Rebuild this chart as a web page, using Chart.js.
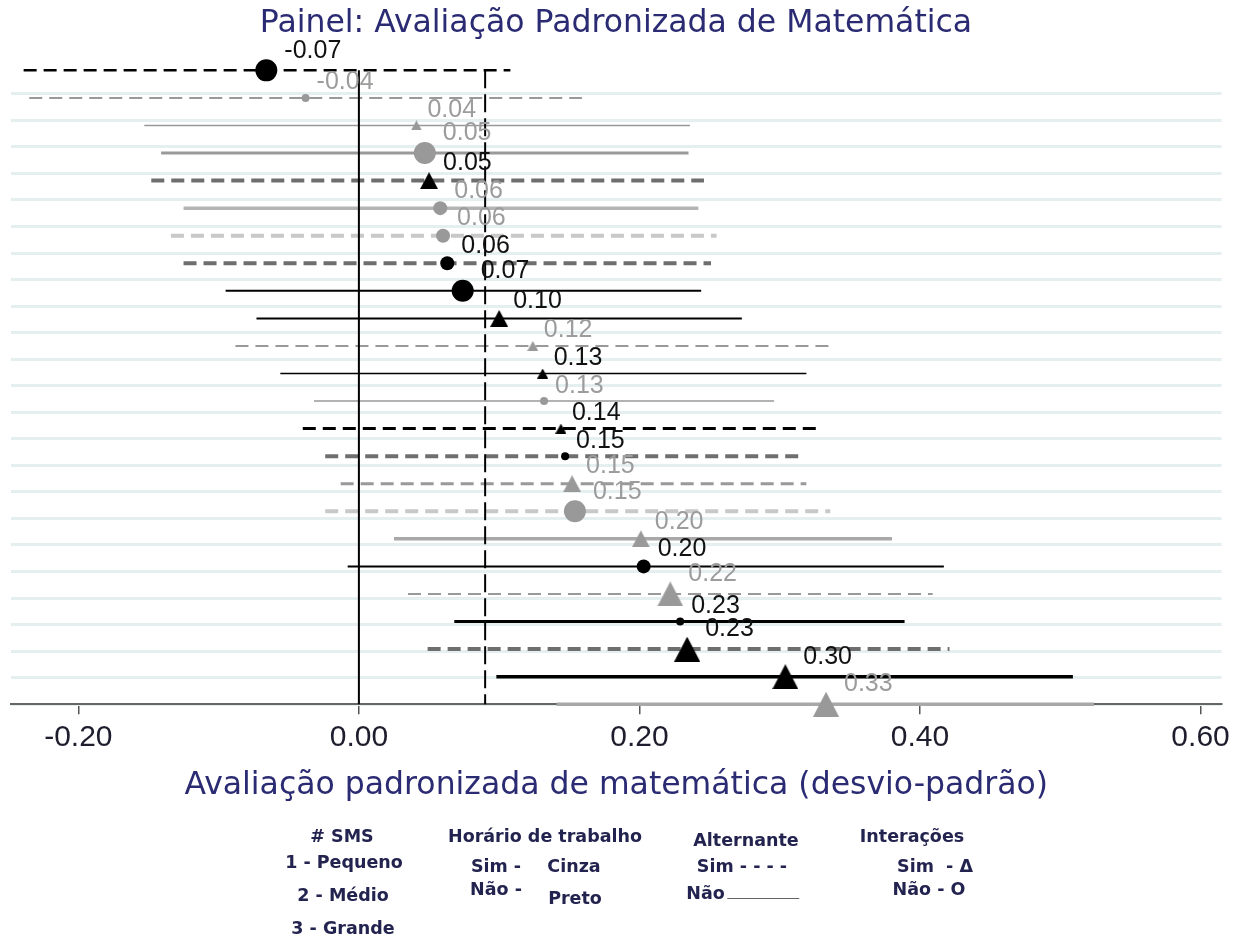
<!DOCTYPE html>
<html>
<head>
<meta charset="utf-8">
<script src="https://cdn.jsdelivr.net/npm/chart.js@4.4.0/dist/chart.umd.min.js"></script>
<style>
  html, body { margin: 0; padding: 0; background: #fff; }
  #wrap { position: relative; width: 1236px; height: 938px; }
  #chart { position: absolute; left: 0; top: 0; }
  .lg {
    position: absolute;
    transform: translate(-50%, -50%);
    font-family: 'DejaVu Sans', sans-serif;
    font-weight: bold;
    font-size: 17.5px;
    color: #23234f;
    white-space: nowrap;
  }
  .rule { display: inline-block; width: 72px; border-bottom: 1.5px solid #666; margin-left: 3px; }
</style>
</head>
<body>
<div id="wrap">
  <canvas id="chart" width="1236" height="938"></canvas>

  <div class="lg" style="left:342px;top:836px"># SMS</div>
  <div class="lg" style="left:344px;top:862px">1 - Pequeno</div>
  <div class="lg" style="left:343px;top:895px">2 - Médio</div>
  <div class="lg" style="left:343px;top:928px">3 - Grande</div>

  <div class="lg" style="left:545px;top:836px">Horário de trabalho</div>
  <div class="lg" style="left:496px;top:866px">Sim -</div>
  <div class="lg" style="left:574px;top:866px">Cinza</div>
  <div class="lg" style="left:496px;top:889px">Não -</div>
  <div class="lg" style="left:575px;top:898px">Preto</div>

  <div class="lg" style="left:746px;top:840px">Alternante</div>
  <div class="lg" style="left:742px;top:866px">Sim - - - -</div>
  <div class="lg" style="left:743px;top:893px">Não<span class="rule"></span></div>

  <div class="lg" style="left:912px;top:836px">Interações</div>
  <div class="lg" style="left:935px;top:866px">Sim &nbsp;- Δ</div>
  <div class="lg" style="left:929px;top:889px">Não - O</div>
</div>

<script>
// rows listed top to bottom
const estimates = [-0.066, -0.038, 0.041, 0.047, 0.050, 0.058, 0.060, 0.063, 0.074, 0.100, 0.124, 0.131,
  0.132, 0.144, 0.147, 0.152, 0.154, 0.201, 0.203, 0.222, 0.229, 0.234, 0.304, 0.333];
const ciLow = [-0.239, -0.235, -0.153, -0.141, -0.148, -0.125, -0.134, -0.125, -0.095, -0.073, -0.088, -0.056,
  -0.032, -0.040, -0.024, -0.013, -0.024, 0.025, -0.008, 0.035, 0.068, 0.049, 0.098, 0.141];
const ciHigh = [0.108, 0.159, 0.236, 0.235, 0.246, 0.242, 0.255, 0.251, 0.244, 0.273, 0.336, 0.319,
  0.296, 0.329, 0.317, 0.319, 0.336, 0.380, 0.417, 0.409, 0.389, 0.421, 0.509, 0.524];

// # SMS: 1 pequeno, 2 medio, 3 grande
const sms = [3, 1, 1, 3, 2, 2, 2, 2, 3, 2, 1, 1, 1, 1, 1, 2, 3, 2, 2, 3, 1, 3, 3, 3];
// horario de trabalho (Sim = cinza)
const horario = ['Não', 'Sim', 'Sim', 'Sim', 'Não', 'Sim', 'Sim', 'Não', 'Não', 'Não', 'Sim', 'Não',
  'Sim', 'Não', 'Não', 'Sim', 'Sim', 'Sim', 'Não', 'Sim', 'Não', 'Não', 'Não', 'Sim'];
// alternante (Sim = tracejado)
const alternante = ['Sim', 'Sim', 'Não', 'Não', 'Sim', 'Não', 'Sim', 'Sim', 'Não', 'Não', 'Sim', 'Não',
  'Não', 'Sim', 'Sim', 'Sim', 'Sim', 'Não', 'Não', 'Sim', 'Não', 'Sim', 'Não', 'Não'];
// interacoes (Sim = triangulo)
const interacoes = ['Não', 'Não', 'Sim', 'Não', 'Sim', 'Não', 'Não', 'Não', 'Não', 'Sim', 'Sim', 'Sim',
  'Não', 'Sim', 'Não', 'Sim', 'Não', 'Sim', 'Não', 'Sim', 'Não', 'Sim', 'Sim', 'Sim'];

const xTicks = [-0.20, 0.00, 0.20, 0.40, 0.60];
const meanEffect = 0.09;

// styles
const NAVY = '#2b2b73';
const GRAY = '#999999';
const BLACK = '#000000';
const circleRadius = [4, 7, 11];
const triangleWidth = [11, 18, 26];
const lineColor = ['#000', '#999', '#999', '#999', '#6e6e6e', '#b4b4b4', '#c8c8c8', '#6e6e6e', '#000', '#000',
  '#999', '#000', '#999', '#000', '#6e6e6e', '#999', '#c8c8c8', '#a8a8a8', '#000', '#999', '#000', '#6e6e6e',
  '#000', '#a8a8a8'];
const lineWidth = [2.5, 2, 1.5, 3, 4, 3.5, 4, 4, 2, 2, 2, 1.5, 1.5, 3, 4, 3, 4, 3.5, 2, 2, 3, 4, 3.5, 3.5];
const nRows = estimates.length;

const triCache = {};
function triangle(size, color) {
  const key = size + color;
  if (!triCache[key]) {
    const w = triangleWidth[size - 1];
    const h = Math.round(w * 0.95);
    const c = document.createElement('canvas');
    c.width = w;
    c.height = h;
    const g = c.getContext('2d');
    g.fillStyle = color;
    g.beginPath();
    g.moveTo(w / 2, 0);
    g.lineTo(w, h);
    g.lineTo(0, h);
    g.closePath();
    g.fill();
    triCache[key] = c;
  }
  return triCache[key];
}

const markerColor = i => (horario[i] === 'Sim' ? GRAY : BLACK);

const ciSets = estimates.map((v, i) => ({
  data: [{x: ciLow[i], y: i + 1}, {x: ciHigh[i], y: i + 1}],
  showLine: true,
  borderColor: lineColor[i],
  borderWidth: lineWidth[i],
  borderDash: alternante[i] === 'Sim' ? [13, 7] : [],
  borderCapStyle: 'butt',
  pointRadius: 0,
  clip: false,
  order: 3,
}));

const refSets = [
  {
    data: [{x: 0, y: 1}, {x: 0, y: nRows}],
    borderColor: '#000',
    borderWidth: 2,
  },
  {
    data: [{x: meanEffect, y: 1}, {x: meanEffect, y: nRows}],
    borderColor: '#000',
    borderWidth: 2,
    borderDash: [18, 6],
  },
].map(d => ({...d, showLine: true, pointRadius: 0, clip: false, order: 2}));

const pointSet = {
  data: estimates.map((v, i) => ({x: v, y: i + 1})),
  pointStyle: c => (interacoes[c.dataIndex] === 'Sim'
    ? triangle(sms[c.dataIndex], markerColor(c.dataIndex)) : 'circle'),
  pointRadius: c => circleRadius[sms[c.dataIndex] - 1],
  pointBackgroundColor: c => markerColor(c.dataIndex),
  pointBorderWidth: 0,
  clip: false,
  order: 0,
};

const valueLabels = {
  id: 'valueLabels',
  afterDatasetsDraw(chart) {
    const {ctx, scales: {x, y}} = chart;
    ctx.save();
    ctx.font = "25px 'Liberation Sans', Arial, sans-serif";
    ctx.textBaseline = 'middle';
    ctx.textAlign = 'left';
    estimates.forEach((v, i) => {
      const r = circleRadius[sms[i] - 1];
      ctx.fillStyle = horario[i] === 'Sim' ? '#9c9c9c' : '#111';
      ctx.fillText(v.toFixed(2), x.getPixelForValue(v) + r + 7, y.getPixelForValue(i + 1) - 13 - r * 0.6);
    });
    ctx.restore();
  },
};

// faint horizontal guide lines
const guideStart = 1.85;
const guideStep = (nRows - guideStart) / (nRows - 1);

new Chart(document.getElementById('chart'), {
  type: 'scatter',
  data: {datasets: [pointSet, ...refSets, ...ciSets]},
  options: {
    responsive: false,
    animation: false,
    layout: {padding: {top: 2, left: 10, right: 14, bottom: 133}},
    plugins: {
      legend: {display: false},
      tooltip: {enabled: false},
      title: {
        display: true,
        text: 'Painel: Avaliação Padronizada de Matemática',
        color: NAVY,
        font: {family: "'DejaVu Sans', sans-serif", size: 31.5, weight: 'normal'},
        padding: {top: 3, bottom: 0},
      },
    },
    scales: {
      x: {
        type: 'linear',
        min: -0.248,
        max: 0.615,
        afterBuildTicks: axis => {
          axis.ticks = xTicks.map(v => ({value: v}));
        },
        ticks: {
          callback: v => v.toFixed(2),
          color: '#1d1d2d',
          font: {family: "'Liberation Sans', Arial, sans-serif", size: 30},
          padding: 6,
          maxRotation: 0,
        },
        grid: {drawOnChartArea: false, drawTicks: true, tickLength: 10, color: '#555', lineWidth: 1.5},
        border: {display: true, color: '#666', width: 2},
        title: {
          display: true,
          text: 'Avaliação padronizada de matemática (desvio-padrão)',
          color: NAVY,
          font: {family: "'DejaVu Sans', sans-serif", size: 31.5, weight: 'normal'},
          padding: {top: 5, bottom: 0},
        },
      },
      y: {
        type: 'linear',
        reverse: true,
        min: 0,
        max: nRows,
        afterBuildTicks: axis => {
          axis.ticks = Array.from({length: nRows}, (_, k) => ({value: guideStart + k * guideStep}));
        },
        ticks: {display: false},
        grid: {drawTicks: false, color: '#e5efef', lineWidth: 3},
        border: {display: false},
      },
    },
  },
  plugins: [valueLabels],
});
</script>
</body>
</html>
